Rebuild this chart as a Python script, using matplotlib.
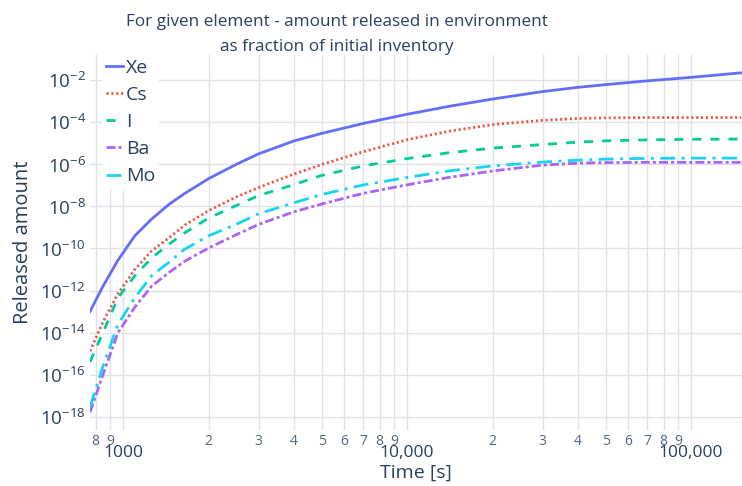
import numpy as np
import matplotlib
matplotlib.use("Agg")
import matplotlib.pyplot as plt
from matplotlib.ticker import FixedLocator, FuncFormatter

plt.rcParams['font.family'] = ['Open Sans', 'DejaVu Sans']
plt.rcParams['mathtext.fontset'] = 'custom'
plt.rcParams['mathtext.rm'] = 'Open Sans'
plt.rcParams['mathtext.it'] = 'Open Sans'
plt.rcParams['axes.unicode_minus'] = True

TXT = '#2a3f5f'
GRID = '#dfe2e8'

# time points [s]
times = [765, 850, 960, 1100, 1260, 1450, 1650, 2000, 2500, 3000, 4000, 5000,
         7000, 10000, 14000, 20000, 30000, 40000, 50000, 70000, 100000, 150000]

xe = [1.0e-13, 1.6e-12, 2.8e-11, 4.0e-10, 2.5e-9, 1.25e-8, 4.2e-8, 2.1e-7, 1.0e-6, 3.2e-6, 1.32e-5,
      3.0e-5, 8.9e-5, 2.45e-4, 5.8e-4, 1.3e-3, 2.95e-3, 4.7e-3, 6.3e-3, 9.5e-3, 1.4e-2, 2.3e-2]
cs = [1.3e-15, 3.2e-14, 7.1e-13, 1.0e-11, 7.6e-11, 3.2e-10, 1.3e-9, 6.3e-9, 2.8e-8, 8.0e-8, 3.5e-7,
      1.0e-6, 4.0e-6, 1.5e-5, 3.8e-5, 7.9e-5, 1.26e-4, 1.55e-4, 1.65e-4, 1.7e-4, 1.7e-4, 1.7e-4]
iod = [4.0e-16, 1.0e-14, 4.5e-13, 5.0e-12, 3.5e-11, 1.6e-10, 5.6e-10, 2.8e-9, 1.1e-8, 3.3e-8, 1.1e-7,
       3.0e-7, 8.5e-7, 1.9e-6, 3.6e-6, 6.0e-6, 8.9e-6, 1.15e-5, 1.33e-5, 1.48e-5, 1.58e-5, 1.62e-5]
ba = [1.6e-18, 1.0e-16, 1.0e-14, 1.6e-13, 1.6e-12, 7.1e-12, 2.5e-11, 1.05e-10, 4.5e-10, 1.4e-9, 5.6e-9,
      1.3e-8, 4.2e-8, 1.07e-7, 2.4e-7, 4.9e-7, 9.3e-7, 1.15e-6, 1.23e-6, 1.26e-6, 1.26e-6, 1.26e-6]
mo = [2.8e-18, 2.5e-16, 2.5e-14, 4.5e-13, 5.0e-12, 2.2e-11, 9.3e-11, 4.0e-10, 1.4e-9, 4.5e-9, 1.5e-8,
      3.7e-8, 1.05e-7, 2.4e-7, 4.9e-7, 8.5e-7, 1.3e-6, 1.6e-6, 1.8e-6, 1.95e-6, 2.0e-6, 2.0e-6]

y_exps = [-2, -4, -6, -8, -10, -12, -14, -16, -18]

fig = plt.figure(figsize=(7.42, 4.86), dpi=100)
ax = fig.add_axes([90 / 742, 1 - 430 / 486, 652 / 742, 375 / 486])
ax.set_xscale('log')
ax.set_yscale('log')

lw = 2.0
ax.plot(times, xe, color='#636EFA', lw=lw, label='Xe')
ax.plot(times, cs, color='#EF553B', lw=lw, ls=(0, (0.75, 1.0)), label='Cs')
ax.plot(times, iod, color='#00CC96', lw=lw, ls=(0, (3.25, 3.25)), label='I')
ax.plot(times, ba, color='#AB63FA', lw=lw, ls=(0, (3.25, 1.1, 1.1, 1.1)), label='Ba')
ax.plot(times, mo, color='#19D3F3', lw=lw, ls=(0, (5.4, 2.3, 1.1, 2.3)), label='Mo')

ax.set_xlim(765, 151000)
ax.set_ylim(10 ** -18.64, 10 ** -0.79)

for s in ax.spines.values():
    s.set_visible(False)

# y axis: even powers only
ax.yaxis.set_major_locator(FixedLocator([10.0 ** e for e in y_exps]))
ax.yaxis.set_minor_locator(FixedLocator([]))
ax.yaxis.set_major_formatter(FuncFormatter(
    lambda v, p: r'$\mathdefault{10^{%d}}$' % round(np.log10(v))))
ax.tick_params(axis='y', length=0, pad=3, labelsize=13.5, labelcolor=TXT)

# x axis: decades big, 2..9 small
majors = [1000, 10000, 100000]
minors = [d * 10 ** k for k in (2, 3, 4) for d in range(2, 10)]
ax.xaxis.set_major_locator(FixedLocator(majors))
ax.xaxis.set_minor_locator(FixedLocator(minors))
ax.xaxis.set_major_formatter(FuncFormatter(
    lambda v, p: f'{v:,.0f}' if v >= 10000 else f'{v:.0f}'))
ax.xaxis.set_minor_formatter(FuncFormatter(
    lambda v, p: str(int(round(v / 10 ** np.floor(np.log10(v)))))))
ax.tick_params(axis='x', which='major', length=0, pad=11, labelsize=12.5, labelcolor=TXT)
ax.tick_params(axis='x', which='minor', length=0, pad=3, labelsize=10, labelcolor='#506784')

ax.grid(True, which='major', axis='y', color=GRID, lw=1)
ax.grid(True, which='both', axis='x', color=GRID, lw=1)
ax.set_axisbelow(True)

ax.set_xlabel('Time [s]', fontsize=14, color=TXT, labelpad=2)
ax.set_ylabel('Released amount', fontsize=14.5, color=TXT, labelpad=5)

fig.text(337 / 742, 1 - 34.5 / 486,
         'For given element - amount released in environment\nas fraction of initial inventory',
         ha='center', va='center', fontsize=12.3, color=TXT, linespacing=1.8)

leg = ax.legend(loc='upper left', bbox_to_anchor=(0.018, 1.0), fontsize=14,
                handlelength=0.9, handletextpad=0.15, labelspacing=0.47,
                borderpad=0.2, borderaxespad=0, frameon=True, fancybox=False, framealpha=1)
leg.get_frame().set_edgecolor('none')
for t in leg.get_texts():
    t.set_color(TXT)

fig.savefig('out.png', dpi=100)
